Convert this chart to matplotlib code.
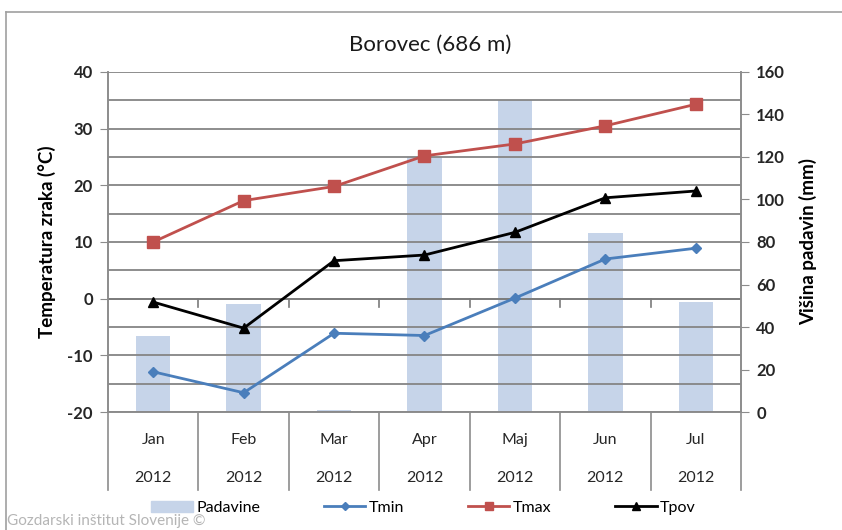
import numpy as np
import matplotlib.pyplot as plt
from matplotlib.lines import Line2D
from matplotlib.patches import Patch

plt.rcParams['font.family'] = ['Lato', 'DejaVu Sans']
plt.rcParams['axes.unicode_minus'] = False

meseci = ['Jan', 'Feb', 'Mar', 'Apr', 'Maj', 'Jun', 'Jul']
leto = '2012'
padavine = [36, 51, 1, 120, 147, 84, 52]          # mm
tmin = [-12.9, -16.6, -6.1, -6.5, 0.1, 7.0, 8.9]  # °C
tmax = [10.0, 17.3, 19.8, 25.2, 27.3, 30.5, 34.3]
tpov = [-0.6, -5.2, 6.7, 7.7, 11.7, 17.8, 19.0]

x = np.arange(len(meseci))
siva = '#8c8c8c'

fig = plt.figure(figsize=(8.42, 5.30), dpi=100)
ax = fig.add_axes([0.1283, 0.2226, 0.7517, 0.6416])
ax2 = ax.twinx()
ax.set_zorder(ax2.get_zorder() + 1)
ax.patch.set_visible(False)

# padavine na desni osi, za črtami
ax2.bar(x, padavine, width=0.38, color='#c6d4e9', zorder=1)
ax2.set_ylim(0, 160)
ax2.set_yticks(np.arange(0, 161, 20))

ax.plot(x, tmin, color='#4a7ebb', lw=2, marker='D', ms=5, zorder=3)
ax.plot(x, tmax, color='#c0504d', lw=2, marker='s', ms=8, zorder=3)
ax.plot(x, tpov, color='black', lw=2, marker='^', ms=7, zorder=3)

ax.set_xlim(-0.5, len(meseci) - 0.5)
ax.set_ylim(-20, 40)
ax.set_yticks(np.arange(-20, 41, 10))
ax.set_yticks(np.arange(-20, 41, 5), minor=True)
ax.grid(axis='y', which='both', color='#858585', lw=1.3, zorder=0)
ax.set_xticks([])
ax2.set_xticks([])

ax.tick_params(axis='y', which='major', length=6, color=siva, labelsize=12, pad=5)
ax.tick_params(axis='y', which='minor', length=0)
ax2.tick_params(axis='y', length=6, color=siva, labelsize=12, pad=5)
for lab in ax.get_yticklabels() + ax2.get_yticklabels():
    lab.set_fontweight('bold')
    lab.set_color('#262626')

for a in (ax, ax2):
    for s in a.spines.values():
        s.set_color(siva)
        s.set_linewidth(1.2)
    a.spines['top'].set_visible(False)

# vodoravna os pri 0 °C z oznakami med meseci
ax.axhline(0, color='#7a7a7a', lw=1.2, zorder=2)
meje = np.arange(len(meseci) + 1) - 0.5
for m in meje[1:-1]:
    ax.plot([m, m], [0, -1.5], color='#7a7a7a', lw=1.2, zorder=2)

# dvovrstične oznake kategorij
tr = ax.get_xaxis_transform()
for m in meje:
    ax.plot([m, m], [0, -0.229], color=siva, lw=1.2, transform=tr, clip_on=False)
for xi, mes in zip(x, meseci):
    ax.text(xi, -0.082, mes, transform=tr, ha='center', va='center', fontsize=11.5, color='#262626')
    ax.text(xi, -0.194, leto, transform=tr, ha='center', va='center', fontsize=11.5, color='#262626')

ax.set_ylabel('Temperatura zraka (°C)', fontsize=13.5, fontweight='bold', labelpad=8)
ax2.set_ylabel('Višina padavin (mm)', fontsize=13.5, fontweight='bold', labelpad=10)

fig.text(0.511, 0.915, 'Borovec (686 m)', ha='center', va='center', fontsize=16, color='#1a1a1a')

rocke = [Patch(color='#c6d4e9'),
         Line2D([], [], color='#4a7ebb', lw=2, marker='D', ms=4),
         Line2D([], [], color='#c0504d', lw=2, marker='s', ms=6),
         Line2D([], [], color='black', lw=2, marker='^', ms=6)]
fig.legend(rocke, ['Padavine', 'Tmin', 'Tmax', 'Tpov'], loc='center', ncol=4,
           bbox_to_anchor=(0.503, 0.042), frameon=False, fontsize=11.5,
           handlelength=2.6, handletextpad=0.2, columnspacing=4.0)

# okvir grafikona in napis vira
fig.add_artist(Line2D([6 / 842, 6 / 842], [0, 1 - 12 / 530], color='#a0a0a0', lw=1.2))
fig.add_artist(Line2D([6 / 842, 1], [1 - 12 / 530, 1 - 12 / 530], color='#a0a0a0', lw=1.2))
fig.text(0.008, 0.003, 'Gozdarski inštitut Slovenije ©', ha='left', va='bottom',
         fontsize=11, color='#b5b5b5')

fig.savefig('out.png', dpi=100)
